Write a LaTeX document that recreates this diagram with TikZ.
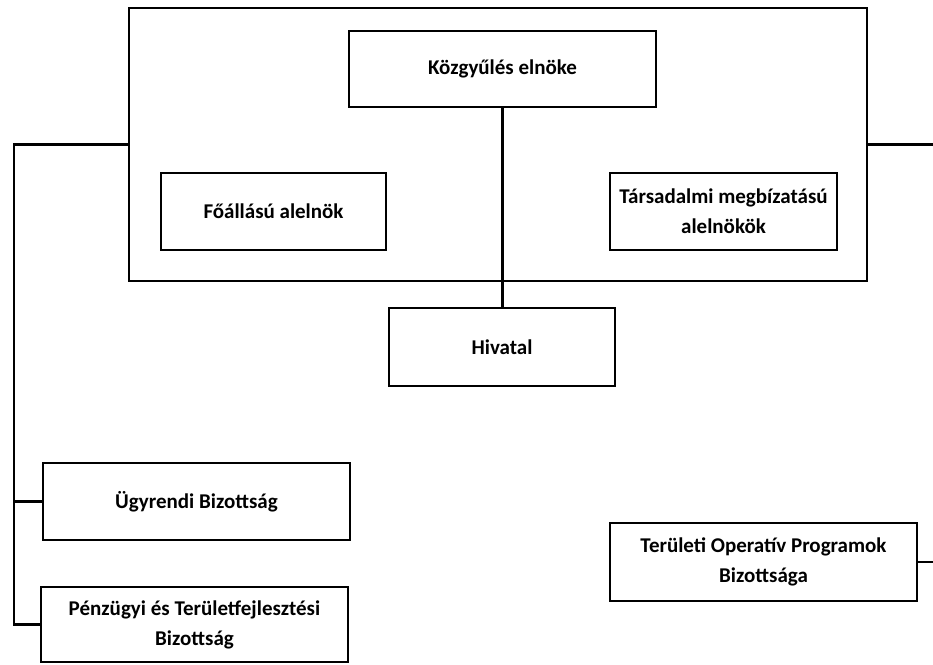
\documentclass[tikz,border=0pt]{standalone}
\usepackage{fontspec}
\setmainfont{Carlito}
\begin{document}
\begin{tikzpicture}[x=1pt,y=-1pt,
  box/.style={draw, line width=2.8pt, rectangle, inner sep=0pt, align=center,
    font=\fontsize{21}{30}\selectfont\bfseries},
  conn/.style={draw, line width=2.8pt, line join=miter}]
\useasboundingbox (0,0) rectangle (933,664);
\node[box, minimum width=738pt, minimum height=273pt] (outer) at (498,144.5) {};
\node[box, minimum width=307pt, minimum height=76pt] (elnok) at (502.5,69) {Közgyűlés elnöke};
\node[box, minimum width=225pt, minimum height=77pt] (foall) at (273.5,211.5) {Főállású alelnök};
\node[box, minimum width=227pt, minimum height=77pt] (tars) at (723.5,211.5) {Társadalmi megbízatású\\alelnökök};
\node[box, minimum width=226pt, minimum height=78pt] (hiv) at (502,347) {Hivatal};
\node[box, minimum width=307pt, minimum height=77pt] (ugy) at (196.5,501.5) {Ügyrendi Bizottság};
\node[box, minimum width=307pt, minimum height=75pt] (penz) at (194.5,624.5) {Pénzügyi és Területfejlesztési\\Bizottság};
\node[box, minimum width=307pt, minimum height=78pt] (ter) at (763.5,562) {Területi Operatív Programok\\Bizottsága};
\coordinate (lt) at (14,144.5);
\coordinate (lb) at (14,624.5);
\coordinate (re) at (933,144.5);
\draw[conn] (elnok.south) -- (elnok.south |- hiv.north);
\draw[conn] (outer.west) -- (lt) -- (lb) -- (penz.west);
\draw[conn] (ugy.west) -- (ugy.west -| lt);
\draw[conn] (outer.east) -- (re);
\draw[conn] (ter.east) -- (ter.east -| re);
\end{tikzpicture}
\end{document}
